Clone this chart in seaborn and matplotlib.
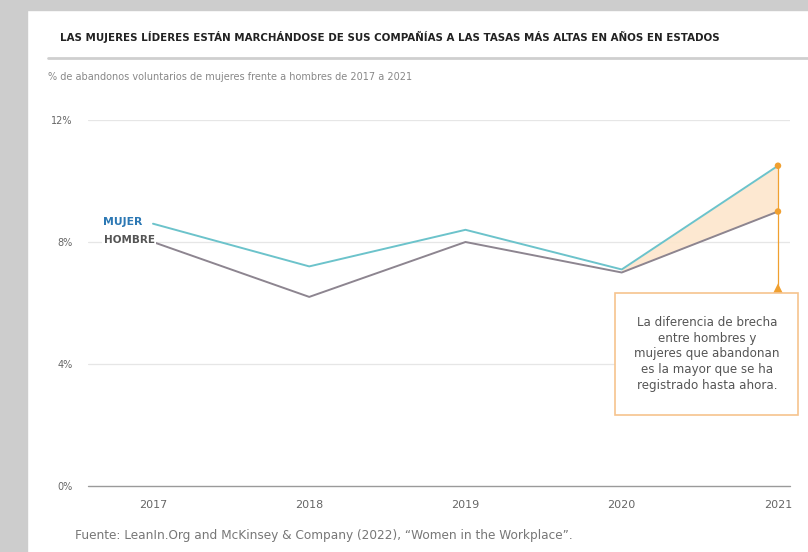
import numpy as np
import pandas as pd
import matplotlib
matplotlib.use("Agg")
from matplotlib import pyplot as plt
from matplotlib.patches import Rectangle
import seaborn as sns

# datos
years = [2017, 2018, 2019, 2020, 2021]
mujer = [8.6, 7.2, 8.4, 7.1, 10.5]
hombre = [8.0, 6.2, 8.0, 7.0, 9.0]
yticks = [0, 4, 8, 12]
ylabels = ["0%", "4%", "8%", "12%"]

title = "LAS MUJERES LÍDERES ESTÁN MARCHÁNDOSE DE SUS COMPAÑÍAS A LAS TASAS MÁS ALTAS EN AÑOS EN ESTADOS"
subtitle = "% de abandonos voluntarios de mujeres frente a hombres de 2017 a 2021"
source = "Fuente: LeanIn.Org and McKinsey & Company (2022), \u201cWomen in the Workplace\u201d."
note = "La diferencia de brecha\nentre hombres y\nmujeres que abandonan\nes la mayor que se ha\nregistrado hasta ahora."

df = pd.DataFrame({
    "year": years * 2,
    "valor": mujer + hombre,
    "serie": ["MUJER"] * len(years) + ["HOMBRE"] * len(years),
})

sns.set_style("white")
plt.rcParams["font.family"] = ["DejaVu Sans"]

W, H = 808, 552
fig = plt.figure(figsize=(W / 100, H / 100), dpi=100)
fig.patch.set_facecolor("white")
# marco gris
fig.patches.append(Rectangle((0, 0), 27 / W, 1, transform=fig.transFigure, color="#cdcdcd", zorder=0))
fig.patches.append(Rectangle((0, 1 - 10 / H), 1, 10 / H, transform=fig.transFigure, color="#cdcdcd", zorder=0))

ax = fig.add_axes([88 / W, 66 / H, (790 - 88) / W, (486 - 120) / H])
ax.set_facecolor("none")

orange = "#f0a030"
pal = {"MUJER": "#6cc3cb", "HOMBRE": "#8d8590"}

# relleno de la brecha 2020-2021
ax.fill_between(years[3:], hombre[3:], mujer[3:], color="#fde6cc", alpha=0.9, lw=0, zorder=1)

sns.lineplot(data=df, x="year", y="valor", hue="serie", palette=pal, lw=1.4,
             legend=False, ax=ax, zorder=3)

# linea vertical + marcadores 2021
ax.plot([2021, 2021], [mujer[-1], 6.45], color=orange, lw=0.9, zorder=2)
sns.scatterplot(x=[2021, 2021], y=[mujer[-1], hombre[-1]], color=orange, s=22,
                edgecolor="none", ax=ax, zorder=4)
ax.scatter([2021], [6.45], marker="^", s=70, color=orange, edgecolor="none", zorder=4, clip_on=False)

ax.set_xlim(2016.584, 2021.077)
ax.set_ylim(0, 12)
ax.set_yticks(yticks)
ax.set_yticklabels(ylabels)
ax.set_xticks(years)
ax.set_xticklabels([str(y) for y in years])
ax.tick_params(axis="y", length=0, pad=11, labelsize=7, labelcolor="#666666")
ax.tick_params(axis="x", length=0, pad=10, labelsize=8, labelcolor="#666666")
ax.set_xlabel("")
ax.set_ylabel("")
for s in ax.spines.values():
    s.set_visible(False)
for v in yticks[1:]:
    ax.axhline(v, color="#e6e6e6", lw=0.9, zorder=0)
ax.axhline(0, color="#9a9a9a", lw=1.0, zorder=0, clip_on=False)

# etiquetas de series
ax.text(2016.93, mujer[0] + 0.05, "MUJER", color="#2c78b4", fontsize=7.8, fontweight="bold",
        ha="right", va="center", zorder=5,
        bbox=dict(facecolor="white", edgecolor="none", pad=1))
ax.text(2017.01, hombre[0] + 0.05, "HOMBRE", color="#555555", fontsize=7.5, fontweight="bold",
        ha="right", va="center", zorder=5,
        bbox=dict(facecolor="white", edgecolor="none", pad=1))

# caja de nota
fig.patches.append(Rectangle((615 / W, 1 - 415 / H), 183 / W, 122 / H, transform=fig.transFigure,
                             facecolor="white", edgecolor="#f6c48e", lw=1.2, zorder=3))
fig.text(707 / W, 1 - 354 / H, note, ha="center", va="center", fontsize=8.6,
         color="#555555", linespacing=1.25, zorder=4)

# textos
fig.text(60 / W, 1 - 37 / H, title, fontsize=7.4, fontweight="bold", color="#222222", va="center")
fig.lines.append(plt.Line2D([48 / W, 1], [1 - 58 / H, 1 - 58 / H], transform=fig.transFigure,
                            color="#cfcfcf", lw=2))
fig.text(48 / W, 1 - 77 / H, subtitle, fontsize=7.0, color="#888888", va="center")
fig.text(75 / W, 1 - 535 / H, source, fontsize=8.7, color="#777777", va="center")

fig.savefig("out.png", dpi=100, facecolor="white")
